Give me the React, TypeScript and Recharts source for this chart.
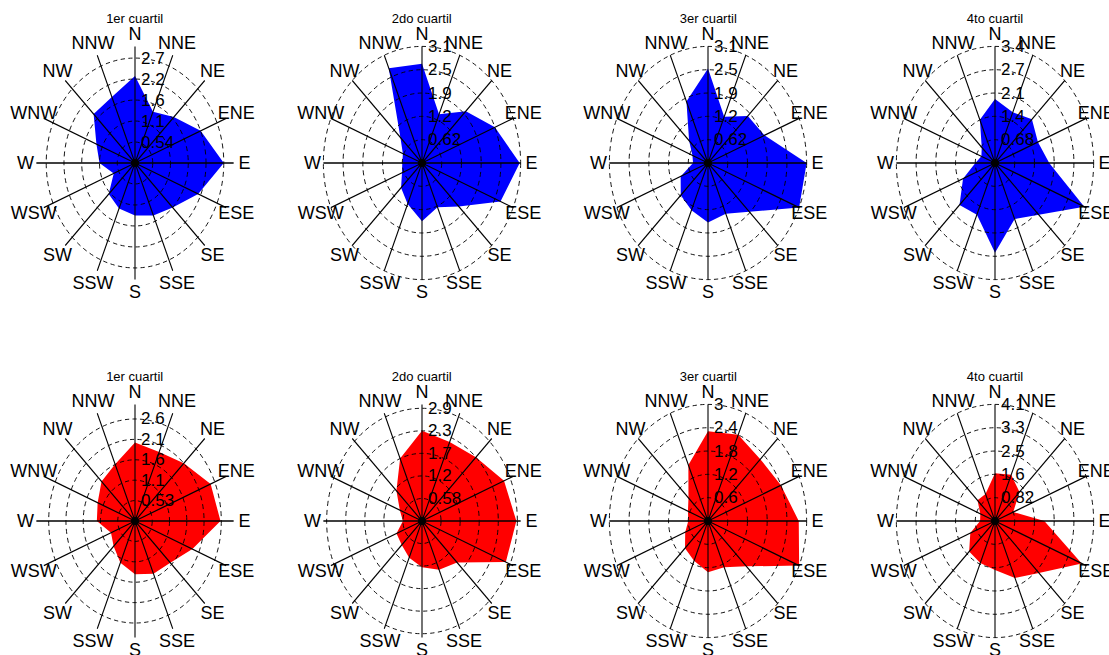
import { PolarAngleAxis, PolarGrid, PolarRadiusAxis, Radar, RadarChart } from "recharts";

const directions = ["N", "NNE", "NE", "ENE", "E", "ESE", "SE", "SSE", "S", "SSW", "SW", "WSW", "W", "WNW", "NW", "NNW"];
const titles = ["1er cuartil", "2do cuartil", "3er cuartil", "4to cuartil"];

// fila superior (azul)
const azul1 = [2.24, 1.43, 1.67, 2.16, 2.7, 2.08, 1.62, 1.46, 1.35, 1.27, 1.13, 0.7, 1.08, 1.27, 1.78, 1.84];
const azul2 = [2.64, 1.4, 1.95, 2.48, 3.07, 2.67, 1.64, 1.27, 1.55, 1.18, 0.93, 0.68, 0.62, 0.65, 0.96, 2.73];
const azul3 = [2.51, 1.33, 1.77, 1.92, 3.1, 3.1, 1.83, 1.46, 1.58, 1.36, 1.21, 0.93, 0.47, 0.53, 0.84, 1.77];
const azul4 = [1.88, 1.61, 1.81, 1.61, 1.88, 3.35, 2.15, 1.78, 2.63, 1.64, 1.74, 1.2, 0.68, 0.51, 0.65, 1.37];

// fila inferior (rojo)
const rojo1 = [2.02, 1.92, 2.1, 2.49, 2.6, 1.89, 1.52, 1.47, 1.37, 1.16, 0.92, 0.79, 1.16, 1.23, 1.44, 1.58];
const rojo2 = [2.32, 2.2, 2.32, 2.7, 2.87, 2.76, 1.51, 1.36, 1.19, 1.02, 0.87, 0.84, 0.58, 0.73, 1.1, 1.74];
const rojo3 = [2.31, 2.4, 2.25, 2.4, 2.76, 3.0, 1.65, 1.29, 1.32, 1.11, 0.99, 0.75, 0.6, 0.66, 0.84, 1.56];
const rojo4 = [1.68, 1.76, 1.44, 0.82, 2.05, 3.9, 2.58, 2.17, 1.72, 1.6, 1.52, 1.11, 0.62, 0.66, 1.03, 1.03];

// anillos (ticks radiales)
const ticksAzul1 = [0.54, 1.08, 1.62, 2.16, 2.7];
const ticksAzul2 = [0.62, 1.24, 1.86, 2.48, 3.1];
const ticksAzul3 = [0.62, 1.24, 1.86, 2.48, 3.1];
const ticksAzul4 = [0.684, 1.368, 2.052, 2.736, 3.42];
const ticksRojo1 = [0.525, 1.05, 1.575, 2.1, 2.625];
const ticksRojo2 = [0.58, 1.16, 1.74, 2.32, 2.9];
const ticksRojo3 = [0.6, 1.2, 1.8, 2.4, 3];
const ticksRojo4 = [0.82, 1.64, 2.46, 3.28, 4.1];

const FONT = "'Liberation Sans', Arial, Helvetica, sans-serif";
const SIZE = 340;
const HALF = SIZE / 2;
const R = 116.6;
const K = 0.846; // ejes con aspecto no cuadrado
const colX = [134.7, 421.7, 708.3, 995];
const rowY = [163.3, 521];

function fmt(v: number) {
  return String(Number(v.toPrecision(2)));
}

function CompassTick(props: any) {
  const { x, y, payload } = props;
  const dx = x - HALF;
  const dy = y - HALF;
  const len = Math.hypot(dx, dy) || 1;
  const px = HALF + (dx / len) * R * 1.11;
  const py = HALF + (dy / len) * R * 1.11;
  return (
    <g transform={`translate(${px},${py}) scale(${1 / K},1)`}>
      <text x={0} y={0} textAnchor="middle" dominantBaseline="central" fontSize={18} fontFamily={FONT} fill="#000">
        {payload.value}
      </text>
    </g>
  );
}

function RingTick(props: any) {
  const { x, y, payload } = props;
  return (
    <g transform={`translate(${x},${y}) scale(${1 / K},1)`}>
      <text x={6} y={0} textAnchor="start" dominantBaseline="central" fontSize={17} fontFamily={FONT} fill="#000">
        {fmt(payload.value)}
      </text>
    </g>
  );
}

function Rose({ values, ticks, color, title, cx, cy }: {
  values: number[];
  ticks: number[];
  color: string;
  title: string;
  cx: number;
  cy: number;
}) {
  const data = directions.map((dir, i) => ({ dir, value: values[i] }));
  const max = ticks[ticks.length - 1];
  return (
    <>
      <div
        style={{
          position: "absolute",
          left: cx - 70,
          top: cy - 152,
          width: 140,
          textAlign: "center",
          fontFamily: FONT,
          fontSize: 13,
          lineHeight: "16px",
          color: "#000",
        }}
      >
        {title}
      </div>
      <div
        style={{
          position: "absolute",
          left: cx - HALF,
          top: cy - HALF,
          width: SIZE,
          height: SIZE,
          transform: `scaleX(${K})`,
          transformOrigin: "50% 50%",
        }}
      >
        <RadarChart width={SIZE} height={SIZE} cx={HALF} cy={HALF} outerRadius={R} data={data} style={{ overflow: "visible" }}>
          <PolarAngleAxis dataKey="dir" axisLine={false} tickLine={false} tick={<CompassTick />} />
          <PolarRadiusAxis angle={90} domain={[0, max]} ticks={ticks} axisLine={false} tick={<RingTick />} />
          <Radar dataKey="value" fill={color} fillOpacity={1} stroke="none" isAnimationActive={false} />
          <PolarGrid gridType="circle" radialLines={false} stroke="#000" strokeWidth={1} strokeDasharray="5 4" zIndex={600} />
          <PolarGrid gridType="circle" polarRadius={[]} stroke="#000" strokeWidth={1.3} zIndex={600} />
        </RadarChart>
      </div>
      <div
        style={{
          position: "absolute",
          left: cx - 4,
          top: cy - 4,
          width: 8,
          height: 8,
          borderRadius: 4,
          background: "#000",
        }}
      />
    </>
  );
}

export default function App() {
  const top = [azul1, azul2, azul3, azul4];
  const topTicks = [ticksAzul1, ticksAzul2, ticksAzul3, ticksAzul4];
  const bottom = [rojo1, rojo2, rojo3, rojo4];
  const bottomTicks = [ticksRojo1, ticksRojo2, ticksRojo3, ticksRojo4];
  return (
    <div style={{ position: "absolute", left: 0, top: 0, width: 1109, height: 655, overflow: "hidden", background: "#fff" }}>
      {top.map((v, i) => (
        <Rose key={`a${i}`} values={v} ticks={topTicks[i]} color="#0000ff" title={titles[i]} cx={colX[i]} cy={rowY[0]} />
      ))}
      {bottom.map((v, i) => (
        <Rose key={`r${i}`} values={v} ticks={bottomTicks[i]} color="#ff0000" title={titles[i]} cx={colX[i]} cy={rowY[1]} />
      ))}
    </div>
  );
}
